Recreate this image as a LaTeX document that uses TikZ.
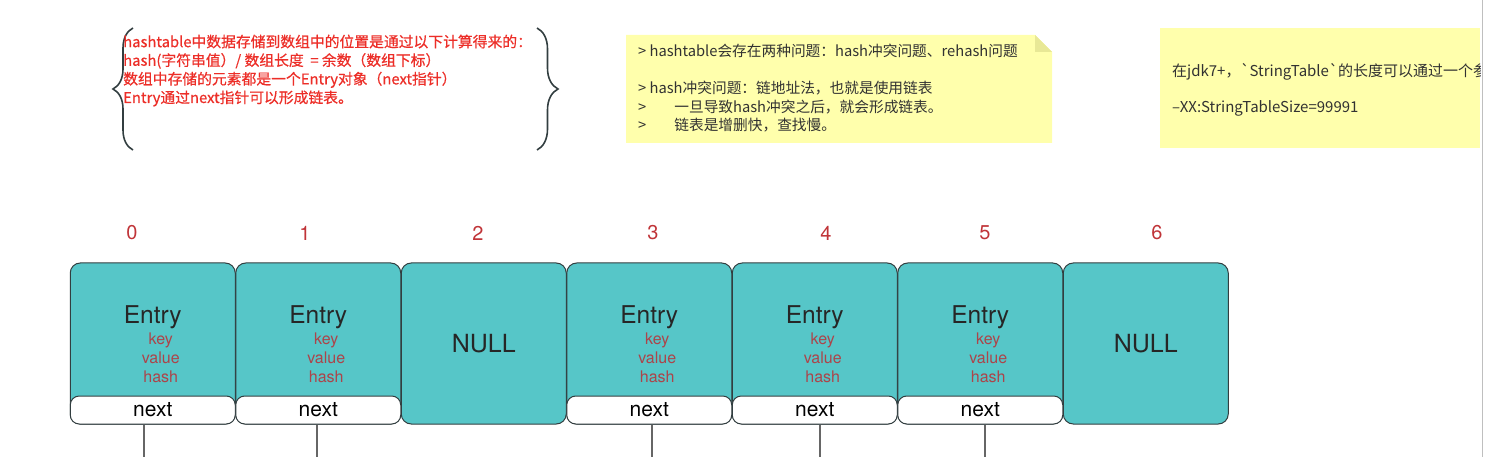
\documentclass[tikz,border=0pt]{standalone}
\usepackage{fontspec}
\setmainfont{TeX Gyre Heros}
\newfontfamily\cjk{Noto Sans CJK SC}
\newfontfamily\cjkheavy{Noto Sans CJK SC}[FakeBold=0.6]
\usetikzlibrary{decorations.pathreplacing}

\definecolor{cellfill}{RGB}{86,198,200}
\definecolor{cellline}{RGB}{50,62,64}
\definecolor{idxred}{RGB}{192,52,56}
\definecolor{fieldred}{RGB}{172,68,74}
\definecolor{notered}{RGB}{236,46,40}
\definecolor{noteyellow}{RGB}{255,255,172}
\definecolor{foldyellow}{RGB}{232,232,150}
\definecolor{notetext}{RGB}{50,50,50}

\tikzstyle{cell} = [rectangle, draw=cellline, fill=cellfill, line width=1pt, rounded corners=10pt, minimum width=165pt, minimum height=161pt, inner sep=0pt]
\tikzstyle{nextbox} = [rectangle, draw=cellline, fill=white, line width=1pt, rounded corners=9pt, minimum width=165pt, minimum height=28pt, inner sep=0pt, font=\fontsize{21}{21}\selectfont]
\tikzstyle{index} = [text=idxred, font=\fontsize{20}{20}\selectfont]
\tikzstyle{entry} = [text=black!85, font=\fontsize{24.5}{24.5}\selectfont]
\tikzstyle{fields} = [text=fieldred, align=center, inner sep=0pt, font=\fontsize{16}{19}\selectfont]
\tikzstyle{nulltext} = [text=black!85, font=\fontsize{25}{25}\selectfont]
\tikzstyle{link} = [draw=black!60, line width=1.2pt]
\tikzstyle{note} = [anchor=base west, align=left, inner sep=0pt, text=notetext, font=\cjk\fontsize{14.7}{18.5}\selectfont]

\begin{document}
\begin{tikzpicture}[x=1pt, y=-1pt]
	\useasboundingbox (0,0) rectangle (1489,457);
	\draw[black!25] (1482,0) -- (1482,457);
	% red remark between braces
	\draw[cellline, line width=1.6pt, decorate, decoration={brace, amplitude=20pt}] (133,150) -- (133,28);
	\draw[cellline, line width=1.6pt, decorate, decoration={brace, amplitude=21pt}] (537,28) -- (537,150);
	\node[note, text=notered, font=\cjkheavy\fontsize{14.8}{18.6}\selectfont] (remark) at (123,103) {hashtable中数据存储到数组中的位置是通过以下计算得来的：\\hash(字符串值）/ 数组长度\ \ = 余数（数组下标）\\数组中存储的元素都是一个Entry对象（next指针）\\Entry通过next指针可以形成链表。};
	% yellow notes
	\fill[noteyellow] (626,35) -- (1035,35) -- (1052,52) -- (1052,143) -- (626,143) -- cycle;
	\fill[foldyellow] (1035,35) -- (1052,52) -- (1035,52) -- cycle;
	\node[note] (collision) at (638,131) {> hashtable会存在两种问题：hash冲突问题、rehash问题\\ \\> hash冲突问题：链地址法，也就是使用链表\\>\hspace{28pt}一旦导致hash冲突之后，就会形成链表。\\>\hspace{28pt}链表是增删快，查找慢。};
	\fill[noteyellow] (1160,28) rectangle (1480,148);
	\begin{scope}
		\clip (1160,28) rectangle (1480,148);
		\node[note, font=\cjk\fontsize{15}{18}\selectfont] (tablesize) at (1172,113) {在jdk7+，\textasciigrave StringTable\textasciigrave 的长度可以通过一个参数\\ \\–XX:StringTableSize=99991};
	\end{scope}
	% array slots
	\node[index] (idx0) at (132,233) {0};
	\node[index] (idx1) at (305,233) {1};
	\node[index] (idx2) at (478,233) {2};
	\node[index] (idx3) at (653,233) {3};
	\node[index] (idx4) at (826,233) {4};
	\node[index] (idx5) at (985,233) {5};
	\node[index] (idx6) at (1157,233) {6};
	\node[cell] (cell0) at (152.75,343.5) {};
	\node[cell] (cell1) at (318.25,343.5) {};
	\node[cell] (cell2) at (483.75,343.5) {};
	\node[cell] (cell3) at (649.25,343.5) {};
	\node[cell] (cell4) at (814.75,343.5) {};
	\node[cell] (cell5) at (980.25,343.5) {};
	\node[cell] (cell6) at (1145.75,343.5) {};
	\node[nextbox] (next0) at (152.75,410) {next};
	\node[nextbox] (next1) at (318.25,410) {next};
	\node[nextbox] (next3) at (649.25,410) {next};
	\node[nextbox] (next4) at (814.75,410) {next};
	\node[nextbox] (next5) at (980.25,410) {next};
	\node[entry] (entry0) at (152.75,317) {Entry};
	\node[entry] (entry1) at (318.25,317) {Entry};
	\node[entry] (entry3) at (649.25,317) {Entry};
	\node[entry] (entry4) at (814.75,317) {Entry};
	\node[entry] (entry5) at (980.25,317) {Entry};
	\node[fields] (fields0) at (160.75,358) {key\\value\\hash};
	\node[fields] (fields1) at (326.25,358) {key\\value\\hash};
	\node[fields] (fields3) at (657.25,358) {key\\value\\hash};
	\node[fields] (fields4) at (822.75,358) {key\\value\\hash};
	\node[fields] (fields5) at (988.25,358) {key\\value\\hash};
	\node[nulltext] (null2) at (483.75,343.5) {NULL};
	\node[nulltext] (null6) at (1145.75,343.5) {NULL};
	% next pointers
	\coordinate (end0) at (144,457);
	\coordinate (end1) at (317,457);
	\coordinate (end3) at (652,457);
	\coordinate (end4) at (820,457);
	\coordinate (end5) at (985,457);
	\draw[link] (next0.south -| end0) -- (end0);
	\draw[link] (next1.south -| end1) -- (end1);
	\draw[link] (next3.south -| end3) -- (end3);
	\draw[link] (next4.south -| end4) -- (end4);
	\draw[link] (next5.south -| end5) -- (end5);
\end{tikzpicture}
\end{document}
